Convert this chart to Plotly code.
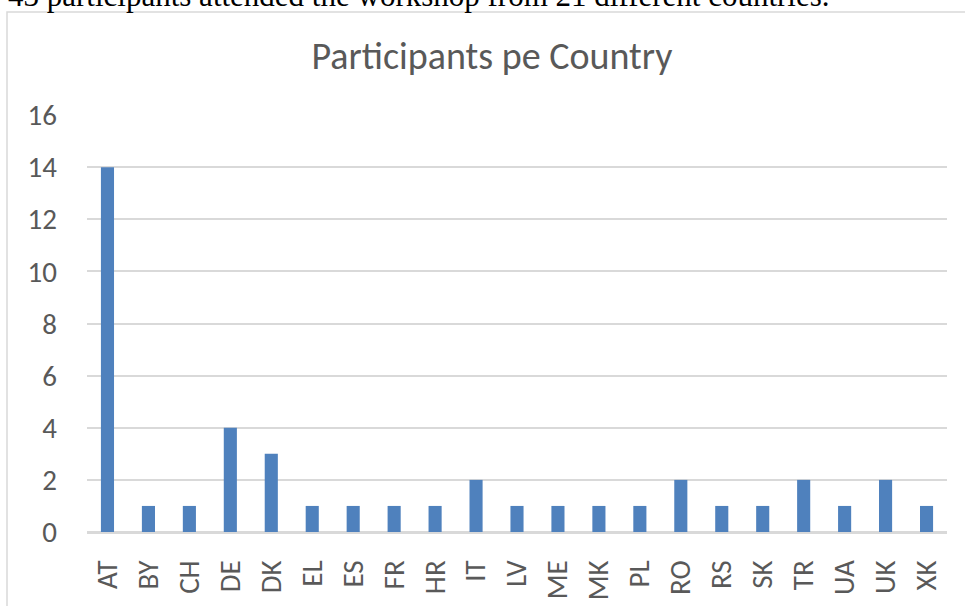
import plotly.graph_objects as go

countries = ["AT", "BY", "CH", "DE", "DK", "EL", "ES", "FR", "HR", "IT", "LV",
             "ME", "MK", "PL", "RO", "RS", "SK", "TR", "UA", "UK", "XK"]
participants = [14, 1, 1, 4, 3, 1, 1, 1, 1, 2, 1, 1, 1, 1, 2, 1, 1, 2, 1, 2, 1]
y_ticks = [0, 2, 4, 6, 8, 10, 12, 14, 16]
title_text = "Participants pe Country"
caption_text = "43 participants attended the workshop from 21 different countries."

W, H = 965, 606
L, R, T, B = 87, 18, 115, 74
pw, ph = W - L - R, H - T - B

def px(x):
    return (x - L) / pw

def py(y):
    return (H - B - y) / ph

FONT = "Carlito, Calibri, Lato, sans-serif"
GREY = "#595959"
GRID = "#d9d9d9"

fig = go.Figure(go.Bar(
    x=countries, y=participants,
    marker=dict(color="#4f81bd", line=dict(width=0)),
    hoverinfo="x+y",
))

fig.update_layout(
    width=W, height=H,
    margin=dict(l=L, r=R, t=T, b=B, autoexpand=False),
    paper_bgcolor="white", plot_bgcolor="white",
    bargap=0.68,
    showlegend=False,
    font=dict(family=FONT, color=GREY),
    title=dict(text=title_text, x=492 / W, xanchor="center",
               y=1 - 56 / H, yanchor="middle",
               font=dict(family=FONT, size=38, color=GREY)),
    xaxis=dict(
        tickangle=-90, tickfont=dict(size=29, color=GREY),
        showgrid=False, showline=True, linecolor=GRID, linewidth=1.5,
        ticks="", ticklabelstandoff=15, fixedrange=True, automargin=False,
    ),
    yaxis=dict(
        range=[0, 16], tickvals=y_ticks,
        tickfont=dict(size=29, color=GREY),
        showgrid=True, gridcolor=GRID, gridwidth=1.5,
        zeroline=True, zerolinecolor=GRID, zerolinewidth=1.5,
        showline=False, ticks="", ticklabelstandoff=29, fixedrange=True,
        automargin=False,
    ),
    shapes=[dict(
        type="rect", xref="paper", yref="paper",
        x0=px(7), x1=px(W + 20), y0=py(H + 20), y1=py(12),
        line=dict(color=GRID, width=1.5), fillcolor="rgba(0,0,0,0)", layer="below",
    )],
    annotations=[dict(
        text=caption_text, xref="paper", yref="paper",
        x=px(6), y=py(15), xanchor="left", yanchor="bottom",
        showarrow=False,
        font=dict(family="Liberation Serif, Times New Roman, serif", size=31, color="black"),
    )],
)

fig.write_html("out.html", config={"displayModeBar": False},
               post_script="document.body.style.margin='0';")
